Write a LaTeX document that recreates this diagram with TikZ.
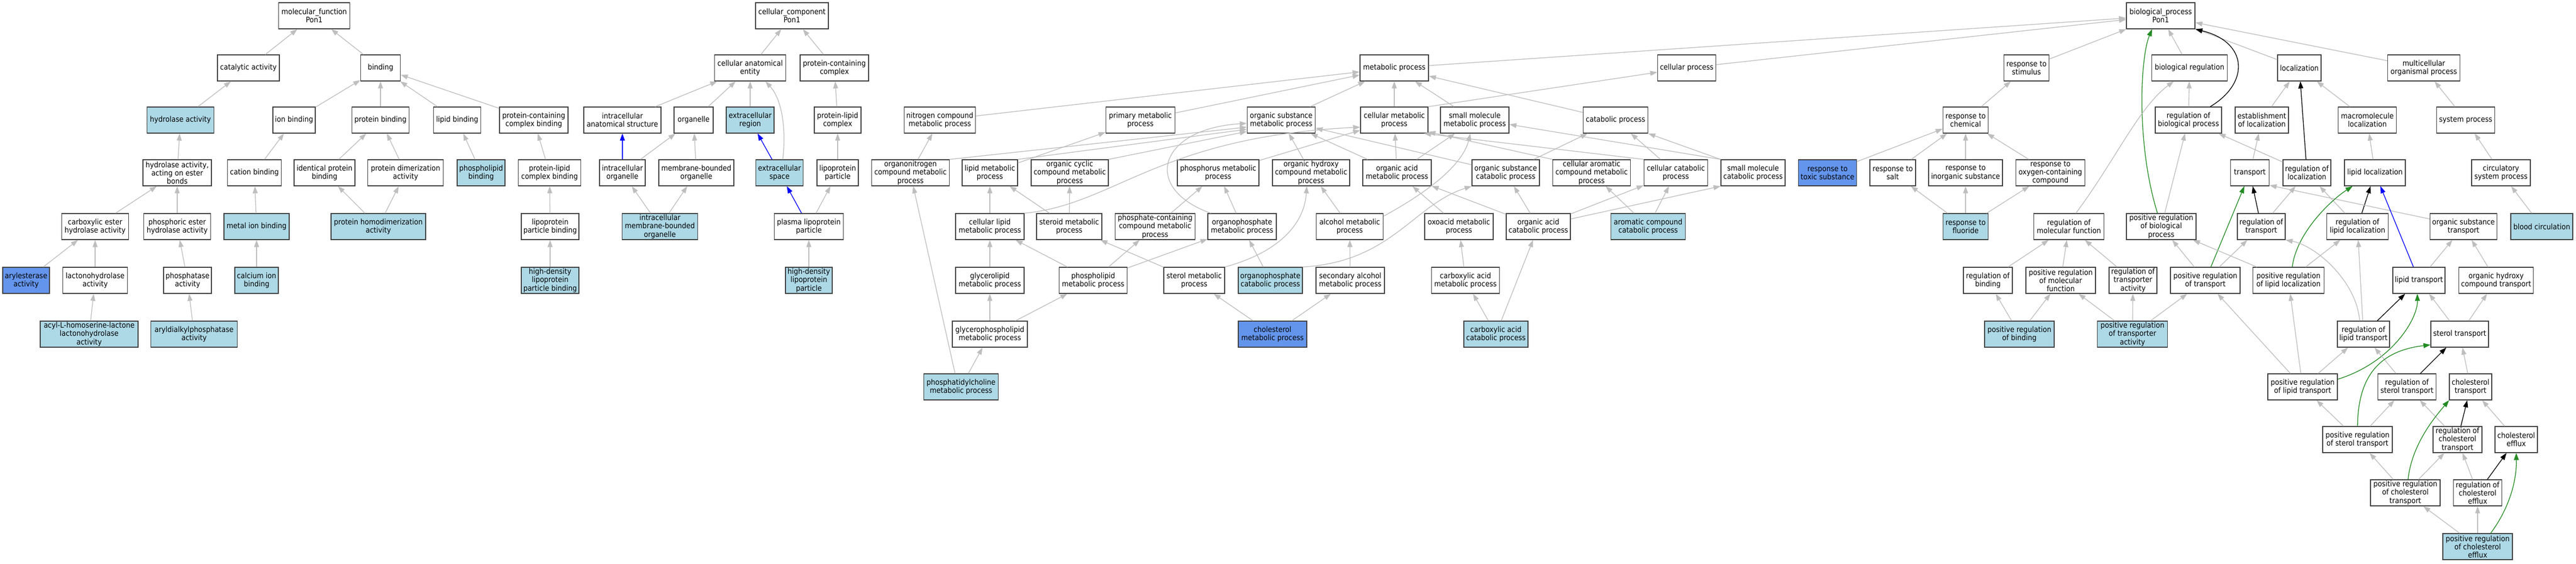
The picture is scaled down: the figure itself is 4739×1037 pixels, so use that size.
\documentclass[tikz,border=0pt]{standalone}
\usepackage{fontspec}
\setmainfont{DejaVu Sans}[FakeStretch=0.9]
\usetikzlibrary{arrows.meta}
\definecolor{lbfill}{HTML}{ADD8E6}
\definecolor{cbfill}{HTML}{6495ED}
\definecolor{egray}{HTML}{BEBEBE}
\definecolor{fgreen}{HTML}{228B22}
\newcommand{\gn}[6]{\node[gonode,#5,minimum width=#4pt] (#1) at (#2,#3) {#6};}
\begin{document}
\begin{tikzpicture}[x=1pt,y=1pt,
  gonode/.style={rectangle,draw=black!75,line width=1.35pt,inner xsep=2pt,inner ysep=0pt,
    minimum height=48pt,align=center,font=\fontsize{14}{15.2}\selectfont},
  wf/.style={fill=white}, lbf/.style={fill=lbfill}, cbf/.style={fill=cbfill},
  ge/.style={draw=egray,line width=1.3pt,-{Triangle[length=13pt,width=9pt]}},
  be/.style={ge,draw=black}, ble/.style={ge,draw=blue}, gre/.style={ge,draw=fgreen}]
\fill[white] (0,0) rectangle (4739,1037);
\useasboundingbox (0,0) rectangle (4739,1037);
% ---------------- molecular function
\gn{mf}{578}{1008}{131}{wf}{molecular\_function\\Pon1}
\gn{cat}{457}{912}{114}{wf}{catalytic activity}
\gn{bind}{700}{912}{73}{wf}{binding}
\gn{hyd}{332}{816}{123}{lbf}{hydrolase activity}
\gn{ionb}{541}{816}{78}{wf}{ion binding}
\gn{protb}{700}{816}{105}{wf}{protein binding}
\gn{lipb}{841}{816}{87}{wf}{lipid binding}
\gn{pccb}{982}{816}{126}{wf}{protein-containing\\complex binding}
\gn{hydest}{326}{719}{126}{wf}{hydrolase activity,\\acting on ester\\bonds}
\gn{catb}{468}{719}{99}{wf}{cation binding}
\gn{idpb}{597}{719}{112}{wf}{identical protein\\binding}
\gn{pdim}{746}{719}{139}{wf}{protein dimerization\\activity}
\gn{phlb}{885}{719}{88}{lbf}{phospholipid\\binding}
\gn{plcb}{1011}{719}{115}{wf}{protein-lipid\\complex binding}
\gn{cest}{175}{620}{123}{wf}{carboxylic ester\\hydrolase activity}
\gn{pest}{326}{620}{123}{wf}{phosphoric ester\\hydrolase activity}
\gn{mib}{472}{620}{120}{lbf}{metal ion binding}
\gn{phd}{696}{620}{174}{lbf}{protein homodimerization\\activity}
\gn{lppb}{1012}{620}{106}{wf}{lipoprotein\\particle binding}
\gn{aryl}{48}{521}{86}{cbf}{arylesterase\\activity}
\gn{lact}{175}{521}{119}{wf}{lactonohydrolase\\activity}
\gn{phos}{345}{521}{88}{wf}{phosphatase\\activity}
\gn{cab}{472}{521}{80}{lbf}{calcium ion\\binding}
\gn{hdlb}{1012}{521}{106}{lbf}{high-density\\lipoprotein\\particle binding}
\gn{acyl}{164}{422}{180}{lbf}{acyl-L-homoserine-lactone\\lactonohydrolase\\activity}
\gn{aryld}{357}{422}{159}{lbf}{aryldialkylphosphatase\\activity}
% ---------------- cellular component
\gn{cc}{1457}{1008}{134}{wf}{cellular\_component\\Pon1}
\gn{cae}{1380}{912}{131}{wf}{cellular anatomical\\entity}
\gn{pcc}{1535}{912}{126}{wf}{protein-containing\\complex}
\gn{ias}{1145}{816}{142}{wf}{intracellular\\anatomical structure}
\gn{org}{1276}{816}{72}{wf}{organelle}
\gn{exr}{1380}{816}{88}{lbf}{extracellular\\region}
\gn{plc}{1541}{816}{86}{wf}{protein-lipid\\complex}
\gn{io}{1145}{719}{84}{wf}{intracellular\\organelle}
\gn{mbo}{1281}{719}{138}{wf}{membrane-bounded\\organelle}
\gn{exs}{1434}{719}{87}{lbf}{extracellular\\space}
\gn{lpp}{1541}{719}{76}{wf}{lipoprotein\\particle}
\gn{imbo}{1214}{620}{139}{lbf}{intracellular\\membrane-bounded\\organelle}
\gn{plpp}{1488}{620}{127}{wf}{plasma lipoprotein\\particle}
\gn{hdlp}{1488}{521}{86}{lbf}{high-density\\lipoprotein\\particle}
% ---------------- biological process
\gn{bp}{3975}{1008}{126}{wf}{biological\_process\\Pon1}
\gn{mp}{2565}{912}{126}{wf}{metabolic process}
\gn{cp}{3103}{912}{107}{wf}{cellular process}
\gn{rs}{3728}{912}{83}{wf}{response to\\stimulus}
\gn{breg}{4028}{912}{139}{wf}{biological regulation}
\gn{loc}{4230}{912}{80}{wf}{localization}
\gn{mop}{4459}{912}{133}{wf}{multicellular\\organismal process}
\gn{ncmp}{1729}{816}{131}{wf}{nitrogen compound\\metabolic process}
\gn{pmp}{2098}{816}{127}{wf}{primary metabolic\\process}
\gn{osmp}{2357}{816}{125}{wf}{organic substance\\metabolic process}
\gn{cmp}{2565}{816}{124}{wf}{cellular metabolic\\process}
\gn{smmp}{2713}{816}{126}{wf}{small molecule\\metabolic process}
\gn{catp}{2972}{816}{119}{wf}{catabolic process}
\gn{rchem}{3616}{816}{83}{wf}{response to\\chemical}
\gn{rbp}{4026}{816}{122}{wf}{regulation of\\biological process}
\gn{eloc}{4161}{816}{98}{wf}{establishment\\of localization}
\gn{mloc}{4355}{816}{107}{wf}{macromolecule\\localization}
\gn{sysp}{4536}{816}{107}{wf}{system process}
\gn{oncmp}{1675}{719}{143}{wf}{organonitrogen\\compound metabolic\\process}
\gn{lmp}{1821}{719}{102}{wf}{lipid metabolic\\process}
\gn{occmp}{1968}{719}{142}{wf}{organic cyclic\\compound metabolic\\process}
\gn{phmp}{2241}{719}{150}{wf}{phosphorus metabolic\\process}
\gn{ohcmp}{2412}{719}{142}{wf}{organic hydroxy\\compound metabolic\\process}
\gn{oamp}{2570}{719}{126}{wf}{organic acid\\metabolic process}
\gn{oscp}{2770}{719}{124}{wf}{organic substance\\catabolic process}
\gn{cacmp}{2928}{719}{143}{wf}{cellular aromatic\\compound metabolic\\process}
\gn{ccp}{3083}{719}{117}{wf}{cellular catabolic\\process}
\gn{smcp}{3225}{719}{118}{wf}{small molecule\\catabolic process}
\gn{rtox}{3362}{719}{107}{cbf}{response to\\toxic substance}
\gn{rsalt}{3482}{719}{84}{wf}{response to\\salt}
\gn{rinorg}{3616}{719}{136}{wf}{response to\\inorganic substance}
\gn{roxy}{3772}{719}{127}{wf}{response to\\oxygen-containing\\compound}
\gn{transp}{4139}{719}{71}{wf}{transport}
\gn{rloc}{4244}{719}{88}{wf}{regulation of\\localization}
\gn{lloc}{4369}{719}{112}{wf}{lipid localization}
\gn{circ}{4601}{719}{108}{wf}{circulatory\\system process}
\gn{clmp}{1821}{620}{126}{wf}{cellular lipid\\metabolic process}
\gn{stmp}{1967}{620}{120}{wf}{steroid metabolic\\process}
\gn{pcmp}{2125}{620}{147}{wf}{phosphate-containing\\compound metabolic\\process}
\gn{opmp}{2285}{620}{126}{wf}{organophosphate\\metabolic process}
\gn{alcmp}{2483}{620}{123}{wf}{alcohol metabolic\\process}
\gn{oxmp}{2684}{620}{126}{wf}{oxoacid metabolic\\process}
\gn{oacp}{2830}{620}{118}{wf}{organic acid\\catabolic process}
\gn{arcp}{3032}{620}{137}{lbf}{aromatic compound\\catabolic process}
\gn{rflu}{3616}{620}{83}{lbf}{response to\\fluoride}
\gn{rmf}{3806}{620}{129}{wf}{regulation of\\molecular function}
\gn{prbp}{3976}{620}{128}{wf}{positive regulation\\of biological\\process}
\gn{rtr}{4160}{620}{88}{wf}{regulation of\\transport}
\gn{rll}{4337}{620}{113}{wf}{regulation of\\lipid localization}
\gn{ost}{4532}{620}{123}{wf}{organic substance\\transport}
\gn{blood}{4676}{620}{114}{lbf}{blood circulation}
\gn{glmp}{1821}{521}{126}{wf}{glycerolipid\\metabolic process}
\gn{phlmp}{2011}{521}{125}{wf}{phospholipid\\metabolic process}
\gn{sterol}{2197}{521}{112}{wf}{sterol metabolic\\process}
\gn{opcp}{2337}{521}{118}{lbf}{organophosphate\\catabolic process}
\gn{salcmp}{2484}{521}{126}{wf}{secondary alcohol\\metabolic process}
\gn{camp}{2696}{521}{125}{wf}{carboxylic acid\\metabolic process}
\gn{rbind}{3657}{521}{90}{wf}{regulation of\\binding}
\gn{prmf}{3791}{521}{128}{wf}{positive regulation\\of molecular\\function}
\gn{rta}{3924}{521}{88}{wf}{regulation of\\transporter\\activity}
\gn{prt}{4057}{521}{128}{wf}{positive regulation\\of transport}
\gn{prll}{4210}{521}{131}{wf}{positive regulation\\of lipid localization}
\gn{lt}{4450}{521}{96}{wf}{lipid transport}
\gn{ohct}{4592}{521}{137}{wf}{organic hydroxy\\compound transport}
\gn{gplmp}{1821}{422}{138}{wf}{glycerophospholipid\\metabolic process}
\gn{cholmp}{2341}{422}{126}{cbf}{cholesterol\\metabolic process}
\gn{cacp}{2752}{422}{118}{lbf}{carboxylic acid\\catabolic process}
\gn{prbind}{3715}{422}{128}{lbf}{positive regulation\\of binding}
\gn{prta}{3923}{422}{129}{lbf}{positive regulation\\of transporter\\activity}
\gn{rlt}{4348}{422}{96}{wf}{regulation of\\lipid transport}
\gn{stt}{4525}{422}{106}{wf}{sterol transport}
\gn{pc}{1768}{325}{137}{lbf}{phosphatidylcholine\\metabolic process}
\gn{prlt}{4236}{325}{128}{wf}{positive regulation\\of lipid transport}
\gn{rst}{4428}{325}{107}{wf}{regulation of\\sterol transport}
\gn{cht}{4545}{325}{78}{wf}{cholesterol\\transport}
\gn{prst}{4337}{228}{128}{wf}{positive regulation\\of sterol transport}
\gn{rcht}{4521}{228}{90}{wf}{regulation of\\cholesterol\\transport}
\gn{che}{4629}{228}{78}{wf}{cholesterol\\efflux}
\gn{prcht}{4425}{130}{128}{wf}{positive regulation\\of cholesterol\\transport}
\gn{rche}{4558}{130}{89}{wf}{regulation of\\cholesterol\\efflux}
\gn{prche}{4558}{31}{128}{lbf}{positive regulation\\of cholesterol\\efflux}
% ================= edges: molecular function
\draw[ge] (cat) -- (mf);
\draw[ge] (bind) -- (mf);
\draw[ge] (hyd) -- (cat);
\draw[ge] (ionb) -- (bind);
\draw[ge] (protb) -- (bind);
\draw[ge] (lipb) -- (bind);
\draw[ge] (pccb) -- (bind);
\draw[ge] (hydest) -- (hyd);
\draw[ge] (catb) -- (ionb);
\draw[ge] (idpb) -- (protb);
\draw[ge] (pdim) -- (protb);
\draw[ge] (phlb) -- (lipb);
\draw[ge] (plcb) -- (pccb);
\draw[ge] (cest) -- (hydest);
\draw[ge] (pest) -- (hydest);
\draw[ge] (mib) -- (catb);
\draw[ge] (phd) -- (idpb);
\draw[ge] (phd) -- (pdim);
\draw[ge] (lppb) -- (plcb);
\draw[ge] (aryl) -- (cest);
\draw[ge] (lact) -- (cest);
\draw[ge] (phos) -- (pest);
\draw[ge] (cab) -- (mib);
\draw[ge] (hdlb) -- (lppb);
\draw[ge] (acyl) -- (lact);
\draw[ge] (aryld) -- (phos);
% ================= edges: cellular component
\draw[ge] (cae) -- (cc);
\draw[ge] (pcc) -- (cc);
\draw[ge] (ias) -- (cae);
\draw[ge] (org) -- (cae);
\draw[ge] (exr) -- (cae);
\draw[ge] ([xshift=6pt]exs.north) .. controls (1447,800) and (1438,855) .. ([xshift=28pt]cae.south);
\draw[ge] (plc) -- (pcc);
\draw[ble] (io) -- (ias);
\draw[ge] (io) -- (org);
\draw[ge] (mbo) -- (org);
\draw[ble] (exs) -- (exr);
\draw[ge] (lpp) -- (plc);
\draw[ge] (imbo) -- (io);
\draw[ge] (imbo) -- (mbo);
\draw[ble] (plpp) -- (exs);
\draw[ge] (plpp) -- (lpp);
\draw[ge] (hdlp) -- (plpp);
% ================= edges: biological process
\draw[ge] (mp) -- (bp);
\draw[ge] (cp) -- (bp);
\draw[ge] (rs) -- (bp);
\draw[ge] (breg) -- (bp);
\draw[ge] (loc) -- (bp);
\draw[ge] (mop) -- (bp);
\draw[be] ([xshift=40pt]rbp.north) .. controls (4140,885) and (4135,960) .. (bp.south east);
\draw[gre] ([xshift=-7pt]prbp.north) .. controls (3930,770) and (3937,930) .. ([xshift=-16pt]bp.south);
\draw[ge] (osmp) -- (mp);
\draw[ge] (cmp) -- (mp);
\draw[ge] (smmp) -- (mp);
\draw[ge] (catp) -- (mp);
\draw[ge] (ncmp) -- (mp);
\draw[ge] (pmp) -- (mp);
\draw[ge] (cmp.north east) -- ([yshift=-8pt]cp.west);
\draw[ge] (rchem) -- (rs);
\draw[ge] (rbp) -- (breg);
\draw[ge] ([xshift=13pt]rmf.north) .. controls (3890,740) and (3935,840) .. ([xshift=-29pt]breg.south);
\draw[ge] (eloc) -- (loc);
\draw[ge] (mloc) -- (loc);
\draw[be] (rloc) -- (loc);
\draw[ge] (sysp) -- (mop);
\draw[ge] (oncmp) -- (ncmp);
\draw[ge] (oncmp.north east) -- ([yshift=-13pt]osmp.west);
\draw[ge] (lmp) -- (pmp);
\draw[ge] (lmp.north east) -- ([yshift=-17pt]osmp.west);
\draw[ge] (occmp.north east) -- ([yshift=-21pt]osmp.west);
\draw[ge] (phmp) -- (cmp);
\draw[ge] (ohcmp) -- (osmp);
\draw[ge] (oamp) -- (osmp);
\draw[ge] (oamp) -- (cmp);
\draw[ge] (oamp) -- (smmp);
\draw[ge] (oscp) -- (osmp);
\draw[ge] (oscp) -- (catp);
\draw[ge] (cacmp.north west) -- ([yshift=3pt]cmp.south east);
\draw[ge] (ccp.north west) -- ([xshift=-8pt]cmp.south east);
\draw[ge] (ccp) -- (catp);
\draw[ge] (smcp.north west) -- ([yshift=-8pt]smmp.east);
\draw[ge] (smcp.north west) -- (catp.south east);
\draw[ge] (rtox) -- (rchem);
\draw[ge] (rsalt) -- (rchem);
\draw[ge] (rinorg) -- (rchem);
\draw[ge] (roxy) -- (rchem);
\draw[ge] (transp) -- (eloc);
\draw[ge] (rloc) -- (rbp);
\draw[ge] (lloc) -- (mloc);
\draw[ge] (circ) -- (sysp);
\draw[ge] (clmp) -- (lmp);
\draw[ge] (clmp.north east) .. controls (2050,660) and (2130,785) .. ([yshift=-13pt]cmp.west);
\draw[ge] (stmp) -- (lmp);
\draw[ge] (stmp) -- (occmp);
\draw[ge] (pcmp) -- (phmp);
\draw[ge] (opmp) -- (phmp);
\draw[ge] ([xshift=6pt]opmp.north west) .. controls (2100,690) and (2130,800) .. ([yshift=-6pt]osmp.west);
\draw[ge] (alcmp) -- (ohcmp);
\draw[ge] ([yshift=19pt]alcmp.east) .. controls (2620,680) and (2690,730) .. ([xshift=-8pt]smmp.south);
\draw[ge] (oxmp) -- (oamp);
\draw[ge] (oacp) -- (oamp);
\draw[ge] (oacp) -- (oscp);
\draw[ge] (oacp) -- (ccp);
\draw[ge] ([yshift=14pt]oacp.east) -- (smcp.south west);
\draw[ge] (arcp) -- (cacmp);
\draw[ge] (arcp) -- (ccp);
\draw[ge] (rflu) -- (rsalt);
\draw[ge] (rflu) -- (rinorg);
\draw[ge] (rflu) -- (roxy);
\draw[ge] (prbp) -- (rbp);
\draw[be] (rtr) -- (transp);
\draw[ge] (rtr) -- (rloc);
\draw[be] (rll) -- (lloc);
\draw[ge] (rll) -- (rloc);
\draw[ge] ([yshift=14pt]ost.west) -- ([yshift=-23pt]transp.east);
\draw[ge] (blood) -- (circ);
\draw[ge] (glmp) -- (clmp);
\draw[ge] (phlmp) -- (clmp);
\draw[ge] (phlmp) -- (pcmp);
\draw[ge] (phlmp) -- (opmp);
\draw[ge] (sterol) -- (stmp);
\draw[ge] (sterol.north east) .. controls (2360,575) and (2400,630) .. ([xshift=-8pt]ohcmp.south);
\draw[ge] (opcp) -- (opmp);
\draw[ge] (opcp.north east) .. controls (2560,555) and (2600,660) .. (oscp.south west);
\draw[ge] (salcmp) -- (alcmp);
\draw[ge] (camp) -- (oxmp);
\draw[ge] (rbind) -- (rmf);
\draw[ge] (prmf) -- (rmf);
\draw[ge] (rta) -- (rmf);
\draw[ge] (prt) -- (prbp);
\draw[ge] (prt) -- (rtr);
\draw[gre] (prt) -- (transp);
\draw[ge] (prll) -- (prbp);
\draw[ge] (prll) -- (rll);
\draw[gre] ([xshift=7pt]prll.north) .. controls (4225,610) and (4290,670) .. ([xshift=-41pt]lloc.south);
\draw[ble] (lt) -- (lloc);
\draw[ge] (lt) -- (ost);
\draw[ge] (ohct) -- (ost);
\draw[ge] (gplmp) -- (glmp);
\draw[ge] (gplmp) -- (phlmp);
\draw[ge] (cholmp) -- (sterol);
\draw[ge] (cholmp) -- (salcmp);
\draw[ge] (cacp) -- (camp);
\draw[ge] (cacp) -- (oacp);
\draw[ge] (prbind) -- (rbind);
\draw[ge] (prbind) -- (prmf);
\draw[ge] (prta) -- (prmf);
\draw[ge] (prta) -- (rta);
\draw[ge] (prta) -- (prt);
\draw[be] (rlt) -- (lt);
\draw[ge] ([xshift=-7pt]rlt.north) .. controls (4335,520) and (4260,585) .. (rtr.south east);
\draw[ge] (rlt) -- (rll);
\draw[ge] (stt) -- (lt);
\draw[ge] (stt) -- (ohct);
\draw[ge] (pc) -- (gplmp);
\draw[ge] ([xshift=-11pt]pc.north) -- ([xshift=5pt]oncmp.south);
\draw[ge] (prlt) -- (prt);
\draw[ge] (prlt) -- (prll);
\draw[ge] (prlt) -- (rlt);
\draw[gre] ([yshift=14pt]prlt.east) .. controls (4400,370) and (4448,450) .. ([xshift=-3pt]lt.south);
\draw[ge] (rst) -- (rlt);
\draw[be] (rst) -- (stt);
\draw[ge] (cht) -- (stt);
\draw[ge] (prst) -- (prlt);
\draw[ge] (prst) -- (rst);
\draw[gre] (prst.north) .. controls (4338,330) and (4365,390) .. ([yshift=5pt]stt.south west);
\draw[ge] (rcht) -- (rst);
\draw[be] (rcht) -- (cht);
\draw[ge] (che) -- (cht);
\draw[ge] (prcht) -- (prst);
\draw[ge] (prcht) -- (rcht);
\draw[gre] ([xshift=5pt]prcht.north) .. controls (4437,220) and (4480,270) .. (cht.south west);
\draw[ge] (rche) -- (rcht);
\draw[be] (rche) -- (che);
\draw[ge] (prche) -- (prcht);
\draw[ge] (prche) -- (rche);
\draw[gre] ([xshift=24pt]prche.north) .. controls (4615,100) and (4630,150) .. (che.south);
\end{tikzpicture}
\end{document}
